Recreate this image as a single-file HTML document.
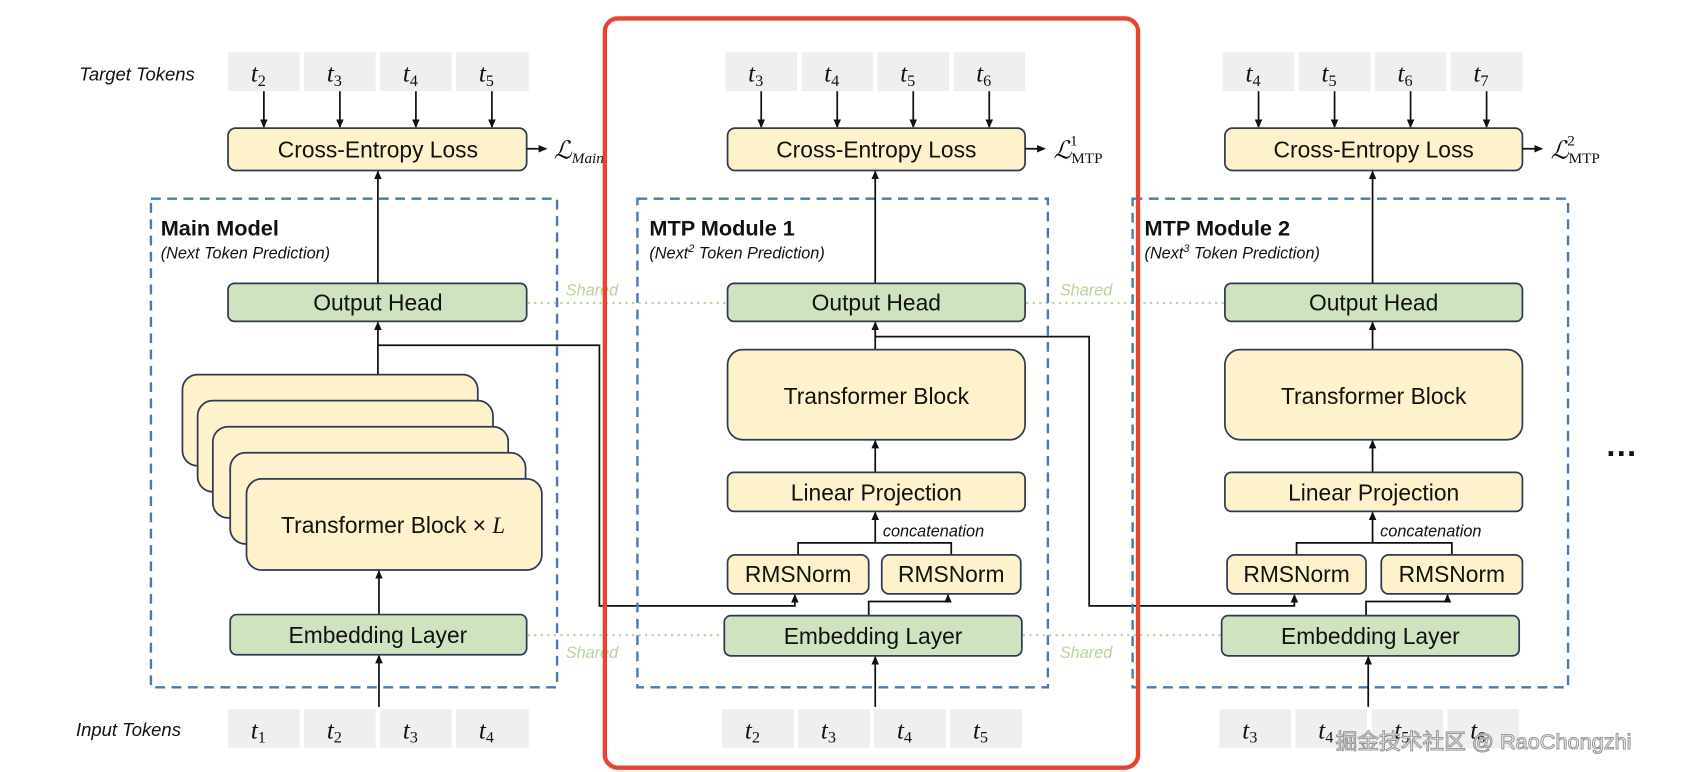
<!DOCTYPE html>
<html><head><meta charset="utf-8"><style>
html,body{margin:0;padding:0;background:#fff;}
svg{display:block}
text{font-family:"Liberation Sans","DejaVu Sans",sans-serif;fill:#111}
.b{fill:#fdf2cc;stroke:#2f3b4f;stroke-width:1.6}
.g{fill:#cfe3c1;stroke:#2f3b4f;stroke-width:1.6}
.tk{fill:#efefef}
.ln{stroke:#111;stroke-width:1.6;fill:none}
.ds{fill:none;stroke:#4a78b0;stroke-width:2.2;stroke-dasharray:9 6}
.sh{stroke:#b7d59b;stroke-width:2;stroke-dasharray:2 4}
.t{font-family:"Liberation Serif",serif;font-style:italic;font-size:23px}
.lbl{font-size:21px;text-anchor:middle}
</style></head><body>
<svg width="1694" height="772" viewBox="0 0 1560 711" preserveAspectRatio="none" xmlns="http://www.w3.org/2000/svg">
<defs><marker id="a" markerWidth="8" markerHeight="8" refX="7" refY="4" orient="auto" markerUnits="userSpaceOnUse"><path d="M0,0.5 L8,4 L0,7.5z" fill="#111"/></marker></defs>

<text x="73" y="74" style="font-style:italic;font-size:17px">Target Tokens</text>
<text x="70" y="678" style="font-style:italic;font-size:17px">Input Tokens</text>

<g id="c1">
<rect class="tk" x="210" y="48" width="66" height="36"/><rect class="tk" x="280" y="48" width="66" height="36"/><rect class="tk" x="350" y="48" width="66" height="36"/><rect class="tk" x="420" y="48" width="67" height="36"/>
<text class="t" x="231" y="75">t<tspan font-size="15" dy="4" font-style="normal">2</tspan></text>
<text class="t" x="301" y="75">t<tspan font-size="15" dy="4" font-style="normal">3</tspan></text>
<text class="t" x="371" y="75">t<tspan font-size="15" dy="4" font-style="normal">4</tspan></text>
<text class="t" x="441" y="75">t<tspan font-size="15" dy="4" font-style="normal">5</tspan></text>
<line class="ln" x1="243" y1="84" x2="243" y2="117" marker-end="url(#a)"/><line class="ln" x1="313" y1="84" x2="313" y2="117" marker-end="url(#a)"/><line class="ln" x1="383" y1="84" x2="383" y2="117" marker-end="url(#a)"/><line class="ln" x1="453" y1="84" x2="453" y2="117" marker-end="url(#a)"/>
<rect class="b" x="210" y="118" width="275" height="39" rx="7"/>
<text class="lbl" x="348" y="145">Cross-Entropy Loss</text>
<line class="ln" x1="485" y1="137" x2="503" y2="137" marker-end="url(#a)"/>
<text class="t" x="510" y="146" font-size="22">ℒ<tspan font-size="14" dy="4">Main</tspan></text>
<rect class="ds" x="139" y="183" width="374" height="450"/>
<text x="148" y="217" style="font-weight:bold;font-size:20px">Main Model</text>
<text x="148" y="238" style="font-style:italic;font-size:15px">(Next Token Prediction)</text>
<line class="ln" x1="348" y1="261" x2="348" y2="158" marker-end="url(#a)"/>
<rect class="g" x="210" y="261" width="275" height="35" rx="6"/>
<text class="lbl" x="348" y="286">Output Head</text>
<line class="ln" x1="348" y1="345" x2="348" y2="297" marker-end="url(#a)"/>
<rect class="b" x="168" y="345" width="272" height="84" rx="14"/>
<rect class="b" x="182" y="369" width="272" height="84" rx="14"/>
<rect class="b" x="196" y="393" width="272" height="84" rx="14"/>
<rect class="b" x="212" y="417" width="272" height="84" rx="14"/>
<rect class="b" x="227" y="441" width="272" height="84" rx="14"/>
<text class="lbl" x="362" y="491">Transformer Block × <tspan font-family="Liberation Serif" font-style="italic">L</tspan></text>
<line class="ln" x1="349" y1="566" x2="349" y2="526" marker-end="url(#a)"/>
<rect class="g" x="212" y="566" width="273" height="37" rx="6"/>
<text class="lbl" x="348" y="592">Embedding Layer</text>
<line class="ln" x1="349" y1="651" x2="349" y2="604" marker-end="url(#a)"/>
<rect class="tk" x="210" y="653" width="66" height="36"/><rect class="tk" x="280" y="653" width="66" height="36"/><rect class="tk" x="350" y="653" width="66" height="36"/><rect class="tk" x="420" y="653" width="67" height="36"/>
<text class="t" x="231" y="680">t<tspan font-size="15" dy="4" font-style="normal">1</tspan></text>
<text class="t" x="301" y="680">t<tspan font-size="15" dy="4" font-style="normal">2</tspan></text>
<text class="t" x="371" y="680">t<tspan font-size="15" dy="4" font-style="normal">3</tspan></text>
<text class="t" x="441" y="680">t<tspan font-size="15" dy="4" font-style="normal">4</tspan></text>
</g>

<line class="sh" x1="486" y1="279" x2="669" y2="279"/><line class="sh" x1="486" y1="585" x2="666" y2="585"/>
<line class="sh" x1="945" y1="279" x2="1127" y2="279"/><line class="sh" x1="942" y1="585" x2="1124" y2="585"/>
<text x="521" y="272" style="font-style:italic;font-size:15px;fill:#b7d59b">Shared</text>
<text x="521" y="606" style="font-style:italic;font-size:15px;fill:#b7d59b">Shared</text>
<text x="976" y="272" style="font-style:italic;font-size:15px;fill:#b7d59b">Shared</text>
<text x="976" y="606" style="font-style:italic;font-size:15px;fill:#b7d59b">Shared</text>

<polyline class="ln" points="348,318 552,318 552,558 732,558 732,548" marker-end="url(#a)"/>
<polyline class="ln" points="806,310 1003,310 1003,558 1192,558 1192,548" marker-end="url(#a)"/>

<g id="m1">
<rect class="tk" x="668" y="48" width="66" height="36"/><rect class="tk" x="738" y="48" width="66" height="36"/><rect class="tk" x="808" y="48" width="66" height="36"/><rect class="tk" x="878" y="48" width="66" height="36"/>
<text class="t" x="689" y="75">t<tspan font-size="15" dy="4" font-style="normal">3</tspan></text>
<text class="t" x="759" y="75">t<tspan font-size="15" dy="4" font-style="normal">4</tspan></text>
<text class="t" x="829" y="75">t<tspan font-size="15" dy="4" font-style="normal">5</tspan></text>
<text class="t" x="899" y="75">t<tspan font-size="15" dy="4" font-style="normal">6</tspan></text>
<line class="ln" x1="701" y1="84" x2="701" y2="117" marker-end="url(#a)"/><line class="ln" x1="771" y1="84" x2="771" y2="117" marker-end="url(#a)"/><line class="ln" x1="841" y1="84" x2="841" y2="117" marker-end="url(#a)"/><line class="ln" x1="911" y1="84" x2="911" y2="117" marker-end="url(#a)"/>
<rect class="b" x="670" y="118" width="274" height="39" rx="7"/>
<text class="lbl" x="807" y="145">Cross-Entropy Loss</text>
<line class="ln" x1="944" y1="137" x2="962" y2="137" marker-end="url(#a)"/>
<text class="t" x="970" y="146">ℒ<tspan font-size="14" dy="4" font-style="normal">MTP</tspan><tspan font-size="14" dx="-30" dy="-16" font-style="normal">1</tspan></text>
<rect class="ds" x="587" y="183" width="378" height="450"/>
<text x="598" y="217" style="font-weight:bold;font-size:20px">MTP Module 1</text>
<text x="598" y="238" style="font-style:italic;font-size:15px">(Next<tspan font-size="10" dy="-6">2</tspan><tspan dy="6"> Token Prediction)</tspan></text>
<line class="ln" x1="806" y1="261" x2="806" y2="158" marker-end="url(#a)"/>
<rect class="g" x="670" y="261" width="274" height="35" rx="6"/>
<text class="lbl" x="807" y="286">Output Head</text>
<line class="ln" x1="806" y1="322" x2="806" y2="297" marker-end="url(#a)"/>
<rect class="b" x="670" y="322" width="274" height="83" rx="14"/>
<text class="lbl" x="807" y="372">Transformer Block</text>
<line class="ln" x1="806" y1="435" x2="806" y2="406" marker-end="url(#a)"/>
<rect class="b" x="670" y="435" width="274" height="36" rx="6"/>
<text class="lbl" x="807" y="461">Linear Projection</text>
<line class="ln" x1="806" y1="500" x2="806" y2="472" marker-end="url(#a)"/>
<polyline class="ln" points="735,511 735,500 876,500 876,511"/>
<text x="813" y="494" style="font-style:italic;font-size:15px">concatenation</text>
<rect class="b" x="670" y="511" width="130" height="36" rx="7"/>
<rect class="b" x="812" y="511" width="128" height="36" rx="7"/>
<text class="lbl" x="735" y="536">RMSNorm</text><text class="lbl" x="876" y="536">RMSNorm</text>
<polyline class="ln" points="800,567 800,554 873,554 873,548" marker-end="url(#a)"/>
<rect class="g" x="667" y="567" width="274" height="37" rx="6"/>
<text class="lbl" x="804" y="593">Embedding Layer</text>
<line class="ln" x1="806" y1="651" x2="806" y2="605" marker-end="url(#a)"/>
<rect class="tk" x="665" y="653" width="66" height="36"/><rect class="tk" x="735" y="653" width="66" height="36"/><rect class="tk" x="805" y="653" width="66" height="36"/><rect class="tk" x="875" y="653" width="66" height="36"/>
<text class="t" x="686" y="680">t<tspan font-size="15" dy="4" font-style="normal">2</tspan></text>
<text class="t" x="756" y="680">t<tspan font-size="15" dy="4" font-style="normal">3</tspan></text>
<text class="t" x="826" y="680">t<tspan font-size="15" dy="4" font-style="normal">4</tspan></text>
<text class="t" x="896" y="680">t<tspan font-size="15" dy="4" font-style="normal">5</tspan></text>
</g>

<g id="m2">
<rect class="tk" x="1126" y="48" width="66" height="36"/><rect class="tk" x="1196" y="48" width="66" height="36"/><rect class="tk" x="1266" y="48" width="66" height="36"/><rect class="tk" x="1336" y="48" width="66" height="36"/>
<text class="t" x="1147" y="75">t<tspan font-size="15" dy="4" font-style="normal">4</tspan></text>
<text class="t" x="1217" y="75">t<tspan font-size="15" dy="4" font-style="normal">5</tspan></text>
<text class="t" x="1287" y="75">t<tspan font-size="15" dy="4" font-style="normal">6</tspan></text>
<text class="t" x="1357" y="75">t<tspan font-size="15" dy="4" font-style="normal">7</tspan></text>
<line class="ln" x1="1159" y1="84" x2="1159" y2="117" marker-end="url(#a)"/><line class="ln" x1="1229" y1="84" x2="1229" y2="117" marker-end="url(#a)"/><line class="ln" x1="1299" y1="84" x2="1299" y2="117" marker-end="url(#a)"/><line class="ln" x1="1369" y1="84" x2="1369" y2="117" marker-end="url(#a)"/>
<rect class="b" x="1128" y="118" width="274" height="39" rx="7"/>
<text class="lbl" x="1265" y="145">Cross-Entropy Loss</text>
<line class="ln" x1="1402" y1="137" x2="1420" y2="137" marker-end="url(#a)"/>
<text class="t" x="1428" y="146">ℒ<tspan font-size="14" dy="4" font-style="normal">MTP</tspan><tspan font-size="14" dx="-30" dy="-16" font-style="normal">2</tspan></text>
<rect class="ds" x="1043" y="183" width="401" height="450"/>
<text x="1054" y="217" style="font-weight:bold;font-size:20px">MTP Module 2</text>
<text x="1054" y="238" style="font-style:italic;font-size:15px">(Next<tspan font-size="10" dy="-6">3</tspan><tspan dy="6"> Token Prediction)</tspan></text>
<line class="ln" x1="1264" y1="261" x2="1264" y2="158" marker-end="url(#a)"/>
<rect class="g" x="1128" y="261" width="274" height="35" rx="6"/>
<text class="lbl" x="1265" y="286">Output Head</text>
<line class="ln" x1="1264" y1="322" x2="1264" y2="297" marker-end="url(#a)"/>
<rect class="b" x="1128" y="322" width="274" height="83" rx="14"/>
<text class="lbl" x="1265" y="372">Transformer Block</text>
<line class="ln" x1="1264" y1="435" x2="1264" y2="406" marker-end="url(#a)"/>
<rect class="b" x="1128" y="435" width="274" height="36" rx="6"/>
<text class="lbl" x="1265" y="461">Linear Projection</text>
<line class="ln" x1="1264" y1="500" x2="1264" y2="472" marker-end="url(#a)"/>
<polyline class="ln" points="1194,511 1194,500 1337,500 1337,511"/>
<text x="1271" y="494" style="font-style:italic;font-size:15px">concatenation</text>
<rect class="b" x="1130" y="511" width="128" height="36" rx="7"/>
<rect class="b" x="1272" y="511" width="130" height="36" rx="7"/>
<text class="lbl" x="1194" y="536">RMSNorm</text><text class="lbl" x="1337" y="536">RMSNorm</text>
<polyline class="ln" points="1258,567 1258,554 1333,554 1333,548" marker-end="url(#a)"/>
<rect class="g" x="1125" y="567" width="274" height="37" rx="6"/>
<text class="lbl" x="1262" y="593">Embedding Layer</text>
<line class="ln" x1="1260" y1="651" x2="1260" y2="605" marker-end="url(#a)"/>
<rect class="tk" x="1123" y="653" width="66" height="36"/><rect class="tk" x="1193" y="653" width="66" height="36"/><rect class="tk" x="1263" y="653" width="66" height="36"/><rect class="tk" x="1333" y="653" width="66" height="36"/>
<text class="t" x="1144" y="680">t<tspan font-size="15" dy="4" font-style="normal">3</tspan></text>
<text class="t" x="1214" y="680">t<tspan font-size="15" dy="4" font-style="normal">4</tspan></text>
<text class="t" x="1284" y="680">t<tspan font-size="15" dy="4" font-style="normal">5</tspan></text>
<text class="t" x="1354" y="680">t<tspan font-size="15" dy="4" font-style="normal">6</tspan></text>
</g>

<text x="1478" y="420" style="font-weight:bold;font-size:30px">…</text>

<rect x="557" y="17" width="491" height="690" rx="12" fill="none" stroke="#e8432e" stroke-width="4"/>

<text x="1230" y="690" style="font-family:'Liberation Sans','Noto Sans CJK SC',sans-serif;font-size:20px;fill:#fff;stroke:#999;stroke-width:1">掘金技术社区 @ RaoChongzhi</text>
</svg>
</body></html>
